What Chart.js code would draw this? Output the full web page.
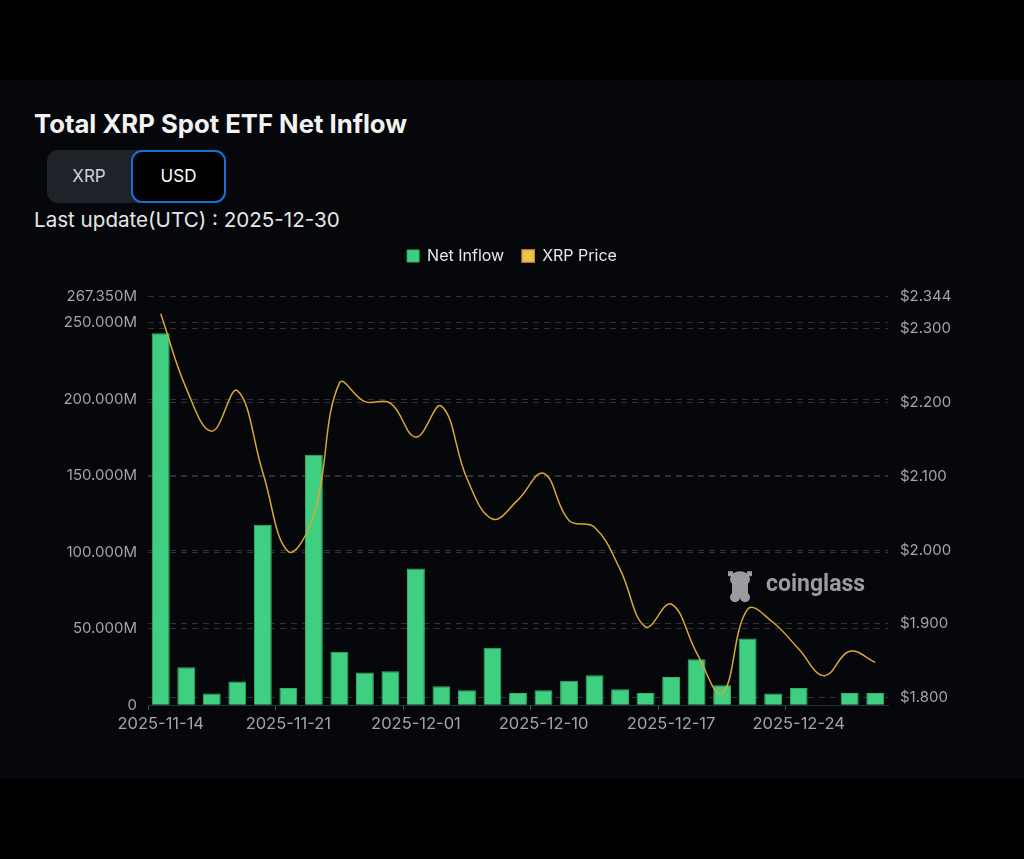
<!DOCTYPE html>
<html>
<head>
<meta charset="utf-8">
<script src="https://cdn.jsdelivr.net/npm/chart.js@4.4.1/dist/chart.umd.min.js"></script>
<style>
  html, body { margin: 0; padding: 0; background: #000; }
  body { width: 1024px; height: 859px; position: relative; overflow: hidden; font-family: Inter, Roboto, sans-serif; }
  #panel { position: absolute; left: 0; top: 80px; width: 1024px; height: 699px; background: #05070b; }
  #title { position: absolute; left: 34px; top: 108px; color: #f2f2f2; font-size: 25.7px; font-weight: bold; }
  #toggle { position: absolute; left: 47px; top: 150px; width: 179px; height: 53px; background: #1e2229; border-radius: 11px; }
  #toggle .btn { position: absolute; top: 0; height: 53px; line-height: 53px; text-align: center; font-size: 17px; box-sizing: border-box; }
  #xrp { left: 0; width: 84px; color: #d0d2d6; }
  #usd { left: 84px; width: 95px; color: #fff; background: #000; border: 2px solid #1a6fd6; border-radius: 11px; line-height: 49px !important; }
  #update { position: absolute; left: 34px; top: 207px; color: #e6e6e6; font-size: 20.6px; }
  #wrap { position: absolute; left: 0; top: 230px; width: 1024px; height: 520px; }
</style>
</head>
<body>
<div id="panel"></div>
<div id="title">Total XRP Spot ETF Net Inflow</div>
<div id="toggle"><div class="btn" id="xrp">XRP</div><div class="btn" id="usd">USD</div></div>
<div id="update">Last update(UTC) : 2025-12-30</div>
<div id="wrap"><canvas id="myChart"></canvas></div>
<script>
// data
const dates = [
  '2025-11-14', '2025-11-17', '2025-11-18', '2025-11-19', '2025-11-20',
  '2025-11-21', '2025-11-24', '2025-11-25', '2025-11-26', '2025-11-28',
  '2025-12-01', '2025-12-02', '2025-12-03', '2025-12-05', '2025-12-08',
  '2025-12-10', '2025-12-11', '2025-12-12', '2025-12-15', '2025-12-16',
  '2025-12-17', '2025-12-18', '2025-12-19', '2025-12-22', '2025-12-23',
  '2025-12-24', '2025-12-26', '2025-12-29', '2025-12-30'
];
// net inflow, millions USD
const netInflow = [
  243.0, 24.8, 7.6, 15.5, 117.9,
  11.3, 163.6, 34.9, 21.4, 22.2,
  89.3, 12.4, 9.8, 37.5, 8.0,
  9.8, 15.9, 19.6, 10.5, 8.0,
  18.5, 30.1, 13.1, 43.6, 7.6,
  11.3, 0, 8.0, 8.0
];
// XRP price, USD
const xrpPrice = [
  2.320, 2.219, 2.161, 2.216, 2.105,
  1.998, 2.048, 2.226, 2.201, 2.199,
  2.153, 2.195, 2.097, 2.042, 2.068,
  2.104, 2.040, 2.031, 1.974, 1.896,
  1.927, 1.861, 1.806, 1.920, 1.902,
  1.866, 1.830, 1.863, 1.848
];
const leftTicks = [0, 50, 100, 150, 200, 250, 267.35];
const rightTicks = [1.8, 1.9, 2.0, 2.1, 2.2, 2.3, 2.344];

const tickFont = { family: 'Inter', size: 15 };
const gridColor = '#2e3137';

// push the plot a little below the legend
const legendGap = {
  id: 'legendGap',
  beforeInit(chart) {
    const fit = chart.legend.fit;
    chart.legend.fit = function () {
      fit.call(this);
      this.height += 22;
    };
  }
};

// watermark block
const watermark = {
  id: 'watermark',
  beforeDatasetsDraw(chart) {
    const { ctx, chartArea: { right, bottom } } = chart;
    const x = right - 160, y = bottom - 120;
    ctx.save();
    ctx.fillStyle = '#9b9c9f';
    // little mascot
    ctx.beginPath();
    ctx.ellipse(x + 12, y - 6, 10, 8, 0, 0, Math.PI * 2);
    ctx.fill();
    ctx.fillRect(x + 4, y - 2, 16, 14);
    ctx.beginPath();
    ctx.arc(x + 7, y + 12, 5, 0, Math.PI * 2);
    ctx.arc(x + 17, y + 12, 5, 0, Math.PI * 2);
    ctx.fill();
    ctx.fillRect(x, y - 14, 5, 5);
    ctx.fillRect(x + 19, y - 14, 5, 5);
    ctx.font = 'bold 23px Roboto';
    ctx.textAlign = 'left';
    ctx.textBaseline = 'middle';
    ctx.fillText('coinglass', x + 38, y);
    ctx.restore();
  }
};

const config = {
  data: {
    labels: dates,
    datasets: [
      {
        type: 'line',
        label: 'XRP Price',
        data: xrpPrice,
        yAxisID: 'y1',
        borderColor: '#d9a834',
        backgroundColor: '#efc24c',
        borderWidth: 1.5,
        pointRadius: 0,
        tension: 0.4,
        order: 0,
      },
      {
        type: 'bar',
        label: 'Net Inflow',
        data: netInflow,
        yAxisID: 'y',
        backgroundColor: '#40cf80',
        borderColor: '#2fb46a',
        borderWidth: 1,
        barPercentage: 0.7,
        categoryPercentage: 1,
        order: 1,
      },
    ],
  },
  options: {
    responsive: true,
    maintainAspectRatio: false,
    animation: false,
    layout: { padding: { top: 0, bottom: 12, left: 0, right: 0 } },
    plugins: {
      legend: {
        display: true,
        reverse: true,
        labels: {
          color: '#e8e8e8',
          font: { family: 'Inter', size: 16 },
          boxWidth: 12,
          boxHeight: 12,
          padding: 18,
        },
      },
      tooltip: { enabled: false },
    },
    scales: {
      x: {
        offset: true,
        grid: {
          offset: true,
          drawOnChartArea: false,
          tickLength: 5,
          color: (c) => (c.index % 5 === 0 ? '#4a4d52' : 'transparent'),
        },
        border: { color: '#2c2f35' },
        ticks: {
          color: '#a3a4a7',
          font: { family: 'Inter', size: 16.5 },
          autoSkip: false,
          maxRotation: 0,
          padding: 4,
          callback: function (v, i) { return i % 5 === 0 ? this.getLabelForValue(v) : ''; },
        },
      },
      y: {
        position: 'left',
        min: 0,
        max: 267.35,
        afterBuildTicks: (s) => { s.ticks = leftTicks.map((v) => ({ value: v })); },
        afterFit: (s) => { s.width = 148; },
        grid: { color: gridColor, drawTicks: false },
        border: { display: false, dash: [6, 5] },
        ticks: {
          color: '#a3a4a7',
          font: tickFont,
          padding: 11,
          callback: (v) => (v === 0 ? '0' : v.toFixed(3) + 'M'),
        },
      },
      y1: {
        position: 'right',
        min: 1.79,
        max: 2.344,
        afterBuildTicks: (s) => { s.ticks = rightTicks.map((v) => ({ value: v })); },
        afterFit: (s) => { s.width = 136; },
        grid: { color: gridColor, drawTicks: false },
        border: { display: false, dash: [6, 5] },
        ticks: {
          color: '#a3a4a7',
          font: tickFont,
          padding: 12,
          callback: (v) => '$' + v.toFixed(3),
        },
      },
    },
  },
  plugins: [legendGap, watermark],
};

const myChart = new Chart(document.getElementById('myChart'), config);
</script>
</body>
</html>
